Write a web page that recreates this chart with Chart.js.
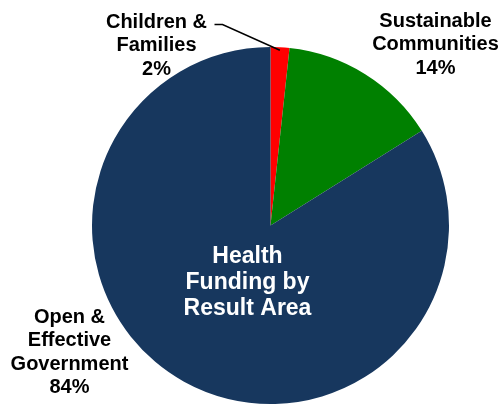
<!DOCTYPE html>
<html>
<head>
<meta charset="utf-8">
<script src="https://cdn.jsdelivr.net/npm/chart.js@4/dist/chart.umd.min.js"></script>
<style>
  html, body { margin: 0; padding: 0; background: #fff; }
  #wrap { width: 504px; height: 406px; position: relative; }
</style>
</head>
<body>
<div id="wrap"><canvas id="pieChart"></canvas></div>
<script>
// result areas, clockwise from 12 o'clock
const areas = ['Children & Families', 'Sustainable Communities', 'Open & Effective Government'];
const shares = [1.7, 14.4, 83.9];
const shareLabels = ['2%', '14%', '84%'];
const sliceColors = ['#FF0000', '#008000', '#17375E'];
const centerTitle = ['Health', 'Funding by', 'Result Area'];

// label placement, offsets from the pie centre (px)
const labelSpots = [
    { lines: ['Children &', 'Families'], dx: -114, dy: -198, leader: true },
    { lines: ['Sustainable', 'Communities'], dx: 165, dy: -199 },
    { lines: ['Open &', 'Effective', 'Government'], dx: -201, dy: 97 }
];

const pieLabels = {
    id: 'pieLabels',
    afterDatasetsDraw(chart) {
        const ctx = chart.ctx;
        const arcs = chart.getDatasetMeta(0).data;
        const cx = arcs[0].x, cy = arcs[0].y;
        ctx.save();
        ctx.textAlign = 'center';
        ctx.textBaseline = 'alphabetic';

        labelSpots.forEach((spot, i) => {
            const lines = spot.lines.concat([shareLabels[i]]);
            ctx.font = 'bold 20px "Liberation Sans", Arial, sans-serif';
            ctx.fillStyle = '#000';
            lines.forEach((t, k) => ctx.fillText(t, cx + spot.dx, cy + spot.dy + k * 23.5));

            if (spot.leader) {
                const a = arcs[i];
                const mid = (a.startAngle + a.endAngle) / 2;
                const r = a.outerRadius - 3;
                const ex = cx + Math.cos(mid) * r;
                const ey = cy + Math.sin(mid) * r;
                ctx.beginPath();
                ctx.moveTo(cx - 56, cy - 201);
                ctx.lineTo(cx - 48, cy - 201);
                ctx.lineTo(ex, ey);
                ctx.strokeStyle = '#000';
                ctx.lineWidth = 1.5;
                ctx.stroke();
            }
        });

        // title inside the big slice
        ctx.font = 'bold 23px "Liberation Sans", Arial, sans-serif';
        ctx.fillStyle = '#fff';
        centerTitle.forEach((t, k) => ctx.fillText(t, cx - 23, cy + 37.5 + k * 26));
        ctx.restore();
    }
};

new Chart(document.getElementById('pieChart'), {
    type: 'pie',
    data: {
        labels: areas,
        datasets: [{
            data: shares,
            backgroundColor: sliceColors,
            borderWidth: 0
        }]
    },
    options: {
        responsive: true,
        maintainAspectRatio: false,
        animation: false,
        layout: { padding: { left: 92, right: 55, top: 47, bottom: 2 } },
        plugins: {
            legend: { display: false },
            tooltip: { enabled: false }
        }
    },
    plugins: [pieLabels]
});
</script>
</body>
</html>
